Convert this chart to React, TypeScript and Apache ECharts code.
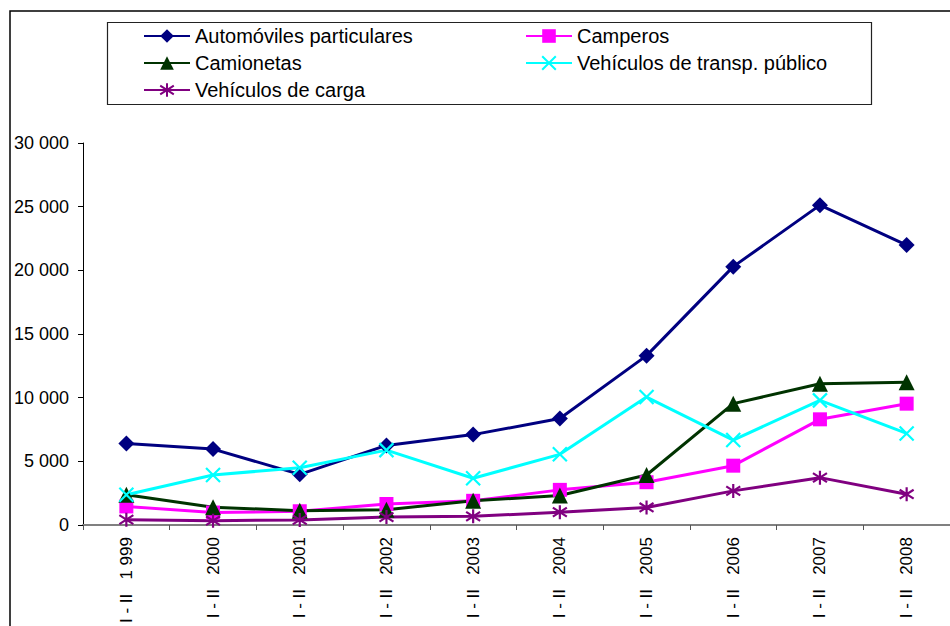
import React, { useEffect, useRef } from "react";
import * as echarts from "echarts";

const categories = [
  "I - II   1 999",
  "I - II   2000",
  "I - II   2001",
  "I - II   2002",
  "I - II   2003",
  "I - II   2004",
  "I - II   2005",
  "I - II   2006",
  "I - II   2007",
  "I - II   2008",
];

const automoviles = [6400, 5960, 3980, 6250, 7100, 8360, 13300, 20290, 25120, 21980];
const camperos = [1460, 980, 1080, 1650, 1900, 2760, 3360, 4660, 8300, 9530];
const camionetas = [2370, 1400, 1120, 1200, 1900, 2320, 3930, 9530, 11090, 11220];
const transpPublico = [2370, 3930, 4500, 5880, 3670, 5550, 10050, 6670, 9790, 7190];
const carga = [420, 340, 400, 620, 680, 1010, 1380, 2680, 3720, 2420];

const yTicks = { min: 0, max: 30000, interval: 5000 };

const FONT = "'Liberation Sans', Arial, sans-serif";

const crossPath = "path://M0 0L10 10M10 0L0 10";
const starPath = "path://M5 0L5 10M0.8 1.8L9.2 8.2M9.2 1.8L0.8 8.2";

function fmt(v: number) {
  return String(v).replace(/\B(?=(\d{3})+(?!\d))/g, " ");
}

export default function App() {
  const ref = useRef<HTMLDivElement>(null);
  useEffect(() => {
    if (!ref.current) return;
    const chart = echarts.init(ref.current, undefined, { renderer: "svg" });
    const mk = (name: string, data: number[], color: string, symbol: string, size: number, stroked: boolean) => ({
      name,
      type: "line",
      data,
      symbol,
      symbolSize: size,
      showAllSymbol: true,
      lineStyle: { color, width: 3 },
      itemStyle: stroked
        ? { color, borderColor: color, borderWidth: 2.2 }
        : { color, borderColor: color, borderWidth: 0 },
      emphasis: { disabled: true },
    });
    const legendCommon = {
      orient: "vertical",
      top: 26,
      padding: 0,
      itemWidth: 46,
      itemHeight: 17,
      itemGap: 7,
      selectedMode: false,
      textStyle: { fontFamily: FONT, fontSize: 20, color: "#000", lineHeight: 20 },
    };
    chart.setOption({
      animation: false,
      backgroundColor: "#fff",
      textStyle: { fontFamily: FONT },
      graphic: [
        {
          type: "rect",
          shape: { x: 10, y: 11, width: 1000, height: 1000 },
          style: { fill: "none", stroke: "#000", lineWidth: 1.5 },
          silent: true,
        },
        {
          type: "rect",
          shape: { x: 107.5, y: 22.5, width: 764, height: 82 },
          style: { fill: "none", stroke: "#222", lineWidth: 1.2 },
          silent: true,
        },
      ],
      legend: [
        {
          ...legendCommon,
          data: ["Automóviles particulares", "Camionetas", "Vehículos de carga"],
          left: 143,
        },
        {
          ...legendCommon,
          data: ["Camperos", "Vehículos de transp. público"],
          left: 525,
        },
      ],
      grid: { left: 83, top: 143, right: -11, bottom: 99, containLabel: false },
      xAxis: {
        type: "category",
        data: categories,
        boundaryGap: true,
        axisLine: { lineStyle: { color: "#808080", width: 2 } },
        axisTick: { show: true, length: 5, lineStyle: { color: "#555", width: 1 } },
        axisLabel: {
          rotate: 90,
          interval: 0,
          margin: 12,
          fontSize: 17,
          fontFamily: FONT,
          color: "#000",
        },
        splitLine: { show: false },
      },
      yAxis: {
        type: "value",
        min: yTicks.min,
        max: yTicks.max,
        interval: yTicks.interval,
        axisLine: { show: true, lineStyle: { color: "#000", width: 1 } },
        axisTick: { show: true, length: 5, lineStyle: { color: "#000" } },
        axisLabel: {
          formatter: (v: number) => fmt(v),
          fontSize: 18,
          margin: 14,
          fontFamily: FONT,
          color: "#000",
        },
        splitLine: { show: false },
      },
      series: [
        mk("Automóviles particulares", automoviles, "#000080", "diamond", 16, false),
        mk("Camperos", camperos, "#FF00FF", "rect", 14, false),
        mk("Camionetas", camionetas, "#003300", "triangle", 16, false),
        mk("Vehículos de transp. público", transpPublico, "#00FFFF", crossPath, 14, true),
        mk("Vehículos de carga", carga, "#800080", starPath, 14, true),
      ],
    });
    return () => chart.dispose();
  }, []);
  return (
    <div
      ref={ref}
      style={{ position: "fixed", left: 0, top: 0, width: 950, height: 626, background: "#fff" }}
    />
  );
}
